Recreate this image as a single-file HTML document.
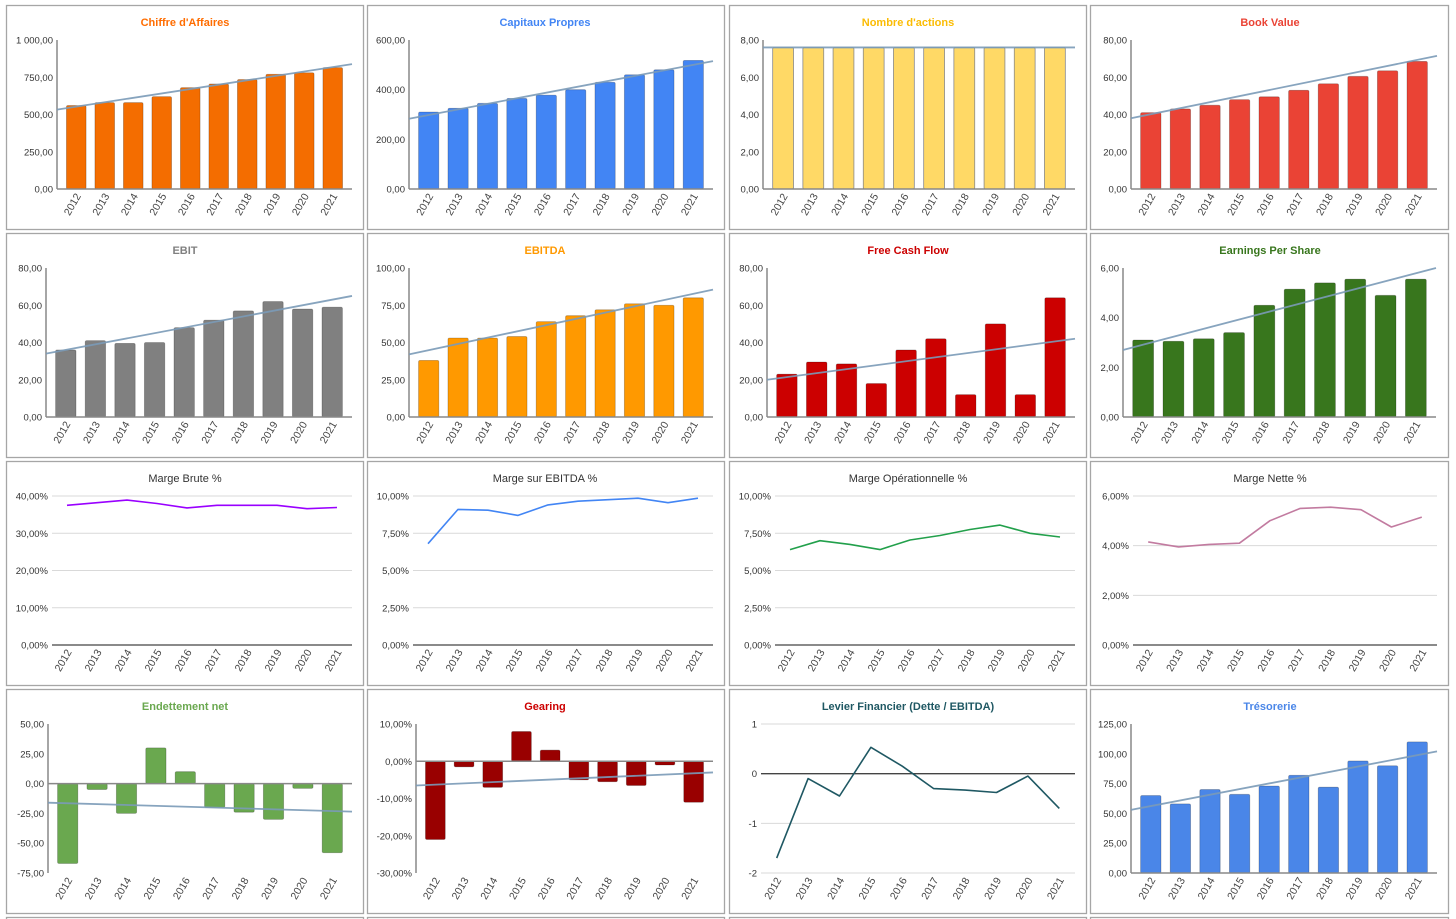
<!DOCTYPE html>
<html><head><meta charset="utf-8">
<style>
html,body{margin:0;padding:0;background:#fff;width:1456px;height:919px;overflow:hidden}
svg{display:block}
text{font-family:"Liberation Sans",Arial,sans-serif}
</style></head>
<body>
<svg id="s" width="1456" height="919" xmlns="http://www.w3.org/2000/svg">
<g id="titles">
<text x="185" y="26" text-anchor="middle" font-size="11" font-weight="bold" fill="#ff6d01">Chiffre d'Affaires</text>
<text x="545" y="26" text-anchor="middle" font-size="11" font-weight="bold" fill="#4285f4">Capitaux Propres</text>
<text x="908" y="26" text-anchor="middle" font-size="11" font-weight="bold" fill="#fbbc04">Nombre d'actions</text>
<text x="1270" y="26" text-anchor="middle" font-size="11" font-weight="bold" fill="#ea4335">Book Value</text>
<text x="185" y="254" text-anchor="middle" font-size="11" font-weight="bold" fill="#808080">EBIT</text>
<text x="545" y="254" text-anchor="middle" font-size="11" font-weight="bold" fill="#ff9900">EBITDA</text>
<text x="908" y="254" text-anchor="middle" font-size="11" font-weight="bold" fill="#cc0000">Free Cash Flow</text>
<text x="1270" y="254" text-anchor="middle" font-size="11" font-weight="bold" fill="#38761d">Earnings Per Share</text>
<text x="185" y="482" text-anchor="middle" font-size="11" fill="#333">Marge Brute %</text>
<text x="545" y="482" text-anchor="middle" font-size="11" fill="#333">Marge sur EBITDA %</text>
<text x="908" y="482" text-anchor="middle" font-size="11" fill="#333">Marge Opérationnelle %</text>
<text x="1270" y="482" text-anchor="middle" font-size="11" fill="#333">Marge Nette %</text>
<text x="185" y="710" text-anchor="middle" font-size="11" font-weight="bold" fill="#6aa84f">Endettement net</text>
<text x="545" y="710" text-anchor="middle" font-size="11" font-weight="bold" fill="#cc0000">Gearing</text>
<text x="908" y="710" text-anchor="middle" font-size="11" font-weight="bold" fill="#1f5863">Levier Financier (Dette / EBITDA)</text>
<text x="1270" y="710" text-anchor="middle" font-size="11" font-weight="bold" fill="#4a86e8">Trésorerie</text>
</g>
</svg>
<script>
var S=document.getElementById('s'),NS='http://www.w3.org/2000/svg';
function el(t,a,txt){var e=document.createElementNS(NS,t);for(var k in a)e.setAttribute(k,a[k]);if(txt!=null)e.textContent=txt;S.insertBefore(e,document.getElementById('titles'));return e;}
var cols=[[6,363],[367,724],[729,1086],[1090,1448]],rows=[5,233,461,689,917];
rows.forEach(function(r){cols.forEach(function(c){el('rect',{x:c[0]+.5,y:r+.5,width:c[1]-c[0],height:(r>900?10:224),fill:'#fff',stroke:'#a6a6a6','stroke-width':1.3});});});
var yrs=['2012','2013','2014','2015','2016','2017','2018','2019','2020','2021'];
function fmt(v,d,pct){var s=v.toFixed(d).replace('.',',');if(Math.abs(v)>=1000)s=s.replace(/^(-?\d)(\d{3})/,'$1 $2');return s+(pct?'%':'');}
function chart(o){
 var x0=o.x0,x1=o.x1,yt=o.yt,yb=o.yb,mn=o.min,mx=o.max;
 function Y(v){return yb-(v-mn)/(mx-mn)*(yb-yt);}
 var pad=o.type=='bar'?5:0;
 var pw=(x1-x0-2*pad)/10;
 function CX(i){return x0+pad+pw*(i+.5);}
 for(var v=mn;v<=mx+1e-9;v+=o.step){
  var y=Y(v);
  if(o.type!='bar'&&Math.abs(v)>1e-9) el('line',{x1:x0,x2:x1,y1:y,y2:y,stroke:'#d9d9d9','stroke-width':1});
  el('text',{x:x0-4,y:y+3.5,'text-anchor':'end','font-size':'9.5',fill:'#333'},o.int?String(v):fmt(v,2,o.pct));
 }
 var z=Y(Math.max(mn,0));
 if(o.type=='bar'){
  el('line',{x1:x0,x2:x0,y1:yt,y2:yb,stroke:'#888','stroke-width':1.5});
  o.d.forEach(function(v,i){var cx=CX(i),w=pw*.69,y=Y(v);var top=Math.min(y,z),h=Math.abs(y-z);
   el('rect',{x:cx-w/2,y:top,width:w,height:h,fill:o.c,stroke:o.sc||'rgba(0,0,0,0.25)','stroke-width':.8,rx:1.5});});
  el('line',{x1:x0,x2:x1,y1:z,y2:z,stroke:'#888','stroke-width':1.5});
  if(o.tr){var a=Y(o.tr[0]),b=Y(o.tr[1]);el('line',{x1:x0,x2:x1,y1:a,y2:b,stroke:'#7b9bb8','stroke-width':1.8,opacity:.9});}
 } else {
  el('line',{x1:x0,x2:x1,y1:z,y2:z,stroke:'#444','stroke-width':1.3});
  var p=o.d.map(function(v,i){return CX(i).toFixed(1)+','+Y(v).toFixed(1);}).join(' ');
  el('polyline',{points:p,fill:'none',stroke:o.c,'stroke-width':1.6,'stroke-linejoin':'round'});
 }
 yrs.forEach(function(t,i){var cx=CX(i)+5,y=yb+7;
  el('text',{x:cx,y:y,'text-anchor':'end','font-size':'10.5',fill:'#444',transform:'rotate(-60 '+cx+' '+y+')'},t);});
}
chart({type:'bar',x0:57,x1:352,yt:40,yb:189,min:0,max:1000,step:250,c:'#f46d00',d:[560,580,580,620,680,705,735,770,780,815],tr:[533,838]});
chart({type:'bar',x0:409,x1:713,yt:40,yb:189,min:0,max:600,step:200,c:'#4285f4',d:[310,325,345,365,378,400,430,460,480,518],tr:[283,515]});
chart({type:'bar',x0:763,x1:1075,yt:40,yb:189,min:0,max:8,step:2,c:'#ffd966',sc:'#8a8a8a',d:[7.6,7.6,7.6,7.6,7.6,7.6,7.6,7.6,7.6,7.6],tr:[7.6,7.6]});
chart({type:'bar',x0:1131,x1:1437,yt:40,yb:189,min:0,max:80,step:20,c:'#ea4335',d:[41,43,45,48,49.5,53,56.5,60.5,63.5,68.5],tr:[38,71.5]});
chart({type:'bar',x0:46,x1:352,yt:268,yb:417,min:0,max:80,step:20,c:'#808080',d:[36,41,39.5,40,48,52,57,62,58,59],tr:[34,65]});
chart({type:'bar',x0:409,x1:713,yt:268,yb:417,min:0,max:100,step:25,c:'#ff9900',d:[38,53,53,54,64,68,72,76,75,80],tr:[42,85.5]});
chart({type:'bar',x0:767,x1:1075,yt:268,yb:417,min:0,max:80,step:20,c:'#cc0000',d:[23,29.5,28.5,18,36,42,12,50,12,64],tr:[20,42]});
chart({type:'bar',x0:1123,x1:1436,yt:268,yb:417,min:0,max:6,step:2,c:'#38761d',d:[3.1,3.05,3.15,3.4,4.5,5.15,5.4,5.55,4.9,5.55],tr:[2.7,6.0]});
chart({type:'line',x0:52,x1:352,yt:496,yb:645,min:0,max:40,step:10,pct:1,c:'#9900ff',d:[37.5,38.2,38.9,38,36.8,37.5,37.5,37.5,36.6,36.9]});
chart({type:'line',x0:413,x1:713,yt:496,yb:645,min:0,max:10,step:2.5,pct:1,c:'#4285f4',d:[6.8,9.1,9.05,8.7,9.4,9.65,9.75,9.85,9.55,9.85]});
chart({type:'line',x0:775,x1:1075,yt:496,yb:645,min:0,max:10,step:2.5,pct:1,c:'#22a04b',d:[6.4,7,6.75,6.4,7.05,7.35,7.75,8.05,7.5,7.25]});
chart({type:'line',x0:1133,x1:1437,yt:496,yb:645,min:0,max:6,step:2,pct:1,c:'#c27ba0',d:[4.15,3.95,4.05,4.1,5,5.5,5.55,5.45,4.75,5.15]});
chart({type:'bar',x0:48,x1:352,yt:724,yb:873,min:-75,max:50,step:25,c:'#6aa84f',d:[-67,-5,-25,30,10,-20,-24,-30,-4,-58],tr:[-16,-23.5]});
chart({type:'bar',x0:416,x1:713,yt:724,yb:873,min:-30,max:10,step:10,pct:1,c:'#990000',d:[-21,-1.5,-7,8,3,-5,-5.5,-6.5,-1,-11],tr:[-6.5,-3]});
chart({type:'line',x0:761,x1:1075,yt:724,yb:873,min:-2,max:1,step:1,int:1,c:'#1f5863',d:[-1.7,-0.1,-0.45,0.53,0.15,-0.3,-0.33,-0.38,-0.05,-0.7]});
chart({type:'bar',x0:1131,x1:1437,yt:724,yb:873,min:0,max:125,step:25,c:'#4a86e8',d:[65,58,70,66,73,82,72,94,90,110],tr:[53,102]});
</script>
</body></html>
